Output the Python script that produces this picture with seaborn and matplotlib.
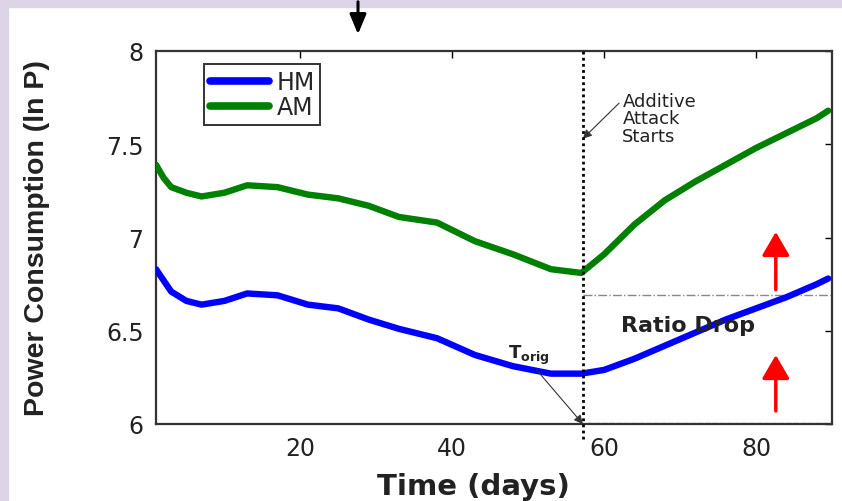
import matplotlib
matplotlib.use("Agg")
import matplotlib.pyplot as plt
import seaborn as sns
import numpy as np
import pandas as pd
from matplotlib.patches import Rectangle, FancyArrowPatch
from matplotlib.lines import Line2D

sns.set_theme(style="white")
plt.rcParams['font.family'] = ['DejaVu Sans']

# data
days = [1, 2, 3, 5, 7, 10, 13, 17, 21, 25, 29, 33, 38, 43, 48, 53, 57,
        60, 64, 68, 72, 76, 80, 84, 88, 89.5]
hm = [6.83, 6.77, 6.71, 6.66, 6.64, 6.66, 6.70, 6.69, 6.64, 6.62, 6.56, 6.51, 6.46,
      6.37, 6.31, 6.27, 6.27, 6.29, 6.35, 6.42, 6.49, 6.56, 6.62, 6.68, 6.75, 6.78]
am = [7.39, 7.32, 7.27, 7.24, 7.22, 7.24, 7.28, 7.27, 7.23, 7.21, 7.17, 7.11, 7.08,
      6.98, 6.91, 6.83, 6.81, 6.91, 7.07, 7.20, 7.30, 7.39, 7.48, 7.56, 7.64, 7.68]
attack_day = 57.2
ratio_level = 6.69
xticks = [20, 40, 60, 80]
yticks = [6, 6.5, 7, 7.5, 8]
ytick_labels = ["6", "6.5", "7", "7.5", "8"]

df = pd.DataFrame({"day": days + days,
                   "value": hm + am,
                   "series": ["HM"] * len(days) + ["AM"] * len(days)})

fig = plt.figure(figsize=(8.42, 5.02), dpi=100)
fig.patch.set_facecolor("white")
# lavender strips at top and left
fig.patches.append(Rectangle((0, 0), 8 / 842, 1, transform=fig.transFigure,
                             color="#DDD5E7", zorder=0))
fig.patches.append(Rectangle((0, 1 - 8 / 502), 1, 8 / 502, transform=fig.transFigure,
                             color="#DDD5E7", zorder=0))

ax = fig.add_axes([156 / 842, 1 - 425 / 502, 676 / 842, 373 / 502])
sns.lineplot(data=df, x="day", y="value", hue="series",
             palette={"HM": "#0000FF", "AM": "#008000"},
             linewidth=4.6, ax=ax, legend=False, zorder=3)

ax.set_xlim(1, 90)
ax.set_ylim(6, 8)
ax.set_xticks(xticks)
ax.set_yticks(yticks)
ax.set_yticklabels(ytick_labels)
ax.tick_params(direction="in", top=True, right=True, length=5, width=1,
               labelsize=17, colors="black", pad=9)
for t in ax.get_xticklabels() + ax.get_yticklabels():
    t.set_color("#222222")
for s in ax.spines.values():
    s.set_color("#333333")
    s.set_linewidth(1.6)

ax.set_xlabel("Time (days)", fontsize=21, fontweight="bold", color="#222222")
ax.set_ylabel("Power Consumption (ln P)", fontsize=20.5, fontweight="bold",
              color="#222222", family=["Liberation Sans", "DejaVu Sans"])
ax.xaxis.set_label_coords(0.47, -0.128)
ax.yaxis.set_label_coords(-0.157, 0.5)

# legend
handles = [Line2D([], [], color="#0000FF", lw=5.5), Line2D([], [], color="#008000", lw=5.5)]
leg = ax.legend(handles, ["HM", "AM"], loc="upper left", bbox_to_anchor=(0.054, 0.996),
                fontsize=17, frameon=True, fancybox=False, handlelength=2.5,
                handletextpad=0.3, borderpad=0.25, labelspacing=0.05)
leg.get_frame().set_edgecolor("black")
leg.get_frame().set_linewidth(1.4)

# attack start vertical dotted line
ax.axvline(attack_day, ymin=-0.04, ymax=1, color="black", linestyle=(0, (1, 1.2)),
           linewidth=2, clip_on=False, zorder=4)
ax.plot([attack_day, 90], [ratio_level, ratio_level], color="#888888",
        linestyle="-.", linewidth=1, zorder=2)
ax.plot([attack_day + 0.5, 90], [6.005, 6.005], color="#999999",
        linestyle="--", linewidth=1, zorder=2)

ax.annotate("Additive\nAttack\nStarts", xy=(attack_day, 7.53), xytext=(62.4, 7.78),
            fontsize=13, color="#222222", linespacing=0.95, va="top", ha="left",
            arrowprops=dict(arrowstyle="-|>", color="#333333", lw=0.8,
                            shrinkA=0, shrinkB=0, relpos=(0.0, 0.85)))
ax.annotate(r"$\mathbf{T_{orig}}$", xy=(attack_day, 6.0), xytext=(47.4, 6.31),
            fontsize=13, color="#222222", ha="left", va="bottom",
            arrowprops=dict(arrowstyle="-|>", color="#333333", lw=0.8,
                            shrinkA=0, shrinkB=0, relpos=(0.6, 0)))
ax.text(62.2, 6.53, "Ratio Drop", fontsize=16, fontweight="bold", color="#222222",
        va="center", ha="left")

for y0, y1 in [(6.72, 7.03), (6.07, 6.37)]:
    ax.annotate("", xy=(82.6, y1), xytext=(82.6, y0),
                arrowprops=dict(arrowstyle="-|>,head_width=0.7,head_length=1.2",
                                color="red", lw=2.5, shrinkA=0, shrinkB=0))

# arrow at the very top of the figure
fig.add_artist(FancyArrowPatch(
    (358 / 842, 1.0), (358 / 842, 1 - 38 / 502), transform=fig.transFigure,
    arrowstyle="-|>,head_width=5,head_length=12", color="black", lw=2.2))

fig.savefig("out.png", dpi=100)
